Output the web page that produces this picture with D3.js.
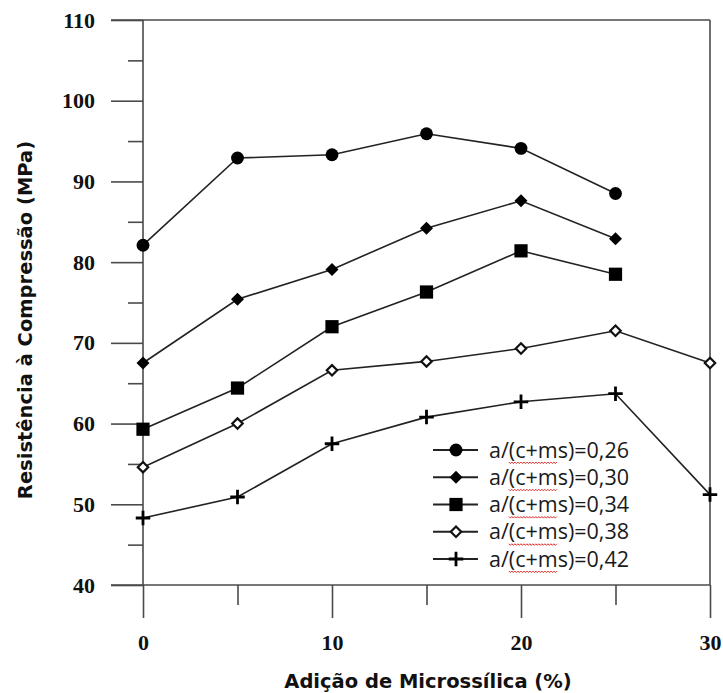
<!DOCTYPE html>
<html>
<head>
<meta charset="utf-8">
<script src="https://cdn.jsdelivr.net/npm/d3@7"></script>
<style>
  html, body { margin: 0; padding: 0; background: #fff; }
  svg { display: block; }
</style>
</head>
<body>
<svg id="chart" width="723" height="693"></svg>
<script>
// Microsilica addition (%) on the x axis
const silica = [0, 5, 10, 15, 20, 25, 30];

// Compressive strength (MPa) for each water/binder ratio
const wb026 = [82.1, 92.9, 93.3, 95.9, 94.1, 88.5];
const wb030 = [67.5, 75.4, 79.1, 84.2, 87.6, 82.9];
const wb034 = [59.3, 64.4, 72.0, 76.3, 81.4, 78.5];
const wb038 = [54.6, 60.0, 66.6, 67.7, 69.3, 71.5, 67.5];
const wb042 = [48.3, 50.9, 57.5, 60.8, 62.7, 63.7, 51.2];

const seriesNames = ["a/(c+ms)=0,26", "a/(c+ms)=0,30", "a/(c+ms)=0,34", "a/(c+ms)=0,38", "a/(c+ms)=0,42"];
const seriesValues = [wb026, wb030, wb034, wb038, wb042];
const seriesMarkers = ["circle", "diamond", "square", "hollowDiamond", "plus"];

const xMajorTicks = [0, 10, 20, 30];
const xMinorTicks = [5, 15, 25];
const yMajorTicks = [40, 50, 60, 70, 80, 90, 100, 110];
const yMinorTicks = [45, 55, 65, 75, 85, 95, 105];

const xTitle = "Adição de Microssílica (%)";
const yTitle = "Resistência à Compressão (MPa)";

const svg = d3.select("#chart");
const x = d3.scaleLinear().domain([0, 30]).range([143, 710]);
const y = d3.scaleLinear().domain([40, 110]).range([585, 20]);

const axisColor = "#4a4a4a";
const lineColor = "#222";
const tickFont = "'Liberation Serif', 'Times New Roman', serif";
const titleFont = "'DejaVu Sans', Verdana, sans-serif";
const legendFont = "'Open Sans', 'Noto Sans', sans-serif";

// Marker shapes
const markerSymbols = {
  circle: { draw(ctx, size) { const r = Math.sqrt(size / Math.PI); ctx.moveTo(r, 0); ctx.arc(0, 0, r, 0, 2 * Math.PI); } },
  diamond: { draw(ctx, size) { const h = Math.sqrt(size / 2); ctx.moveTo(0, -h); ctx.lineTo(h, 0); ctx.lineTo(0, h); ctx.lineTo(-h, 0); ctx.closePath(); } },
  square: { draw(ctx, size) { const h = Math.sqrt(size) / 2; ctx.rect(-h, -h, 2 * h, 2 * h); } },
  plus: { draw(ctx, size) { const h = Math.sqrt(size) / 2; ctx.moveTo(-h, 0); ctx.lineTo(h, 0); ctx.moveTo(0, -h); ctx.lineTo(0, h); } }
};
const markerStyle = {
  circle: { type: markerSymbols.circle, size: 130, fill: "#000", stroke: "none", sw: 0 },
  diamond: { type: markerSymbols.diamond, size: 84, fill: "#000", stroke: "none", sw: 0 },
  square: { type: markerSymbols.square, size: 175, fill: "#000", stroke: "none", sw: 0 },
  hollowDiamond: { type: markerSymbols.diamond, size: 54, fill: "#fff", stroke: "#111", sw: 2.2 },
  plus: { type: markerSymbols.plus, size: 210, fill: "none", stroke: "#000", sw: 2.8 }
};
function drawMarker(g, kind, cx, cy) {
  const s = markerStyle[kind];
  g.append("path")
    .attr("d", d3.symbol().type(s.type).size(s.size)())
    .attr("transform", `translate(${cx},${cy})`)
    .attr("fill", s.fill)
    .attr("stroke", s.stroke)
    .attr("stroke-width", s.sw);
}

// Axes
const yMajor = svg.append("g").attr("transform", `translate(${x(0)},0)`)
  .call(d3.axisLeft(y).tickValues(yMajorTicks).tickSize(32).tickPadding(16).tickFormat(d3.format("d")));
const yMinor = svg.append("g").attr("transform", `translate(${x(0)},0)`)
  .call(d3.axisLeft(y).tickValues(yMinorTicks).tickSize(15).tickFormat(""));
const xMajor = svg.append("g").attr("transform", `translate(0,${y(40)})`)
  .call(d3.axisBottom(x).tickValues(xMajorTicks).tickSize(33).tickPadding(16).tickFormat(d3.format("d")));
const xMinor = svg.append("g").attr("transform", `translate(0,${y(40)})`)
  .call(d3.axisBottom(x).tickValues(xMinorTicks).tickSize(20).tickFormat(""));

[yMajor, yMinor, xMajor, xMinor].forEach(g => {
  g.select(".domain").remove();
  g.selectAll(".tick line").attr("stroke", axisColor).attr("stroke-width", 1.6);
  g.selectAll(".tick text")
    .attr("fill", "#111")
    .style("font-family", tickFont)
    .style("font-weight", "bold")
    .style("font-size", "22px");
});

// Frame: left axis, top, bottom and right borders
const frame = svg.append("g").attr("stroke", axisColor).attr("stroke-width", 1.6).attr("fill", "none");
frame.append("line").attr("x1", x(0)).attr("x2", x(0)).attr("y1", y(110)).attr("y2", y(40));
frame.append("line").attr("x1", x(0) - 32).attr("x2", x(30)).attr("y1", y(110)).attr("y2", y(110));
frame.append("line").attr("x1", x(0) - 32).attr("x2", x(30)).attr("y1", y(40)).attr("y2", y(40));
frame.append("line").attr("x1", x(30)).attr("x2", x(30)).attr("y1", y(110)).attr("y2", y(40));

// Series lines and markers
const lineGen = d3.line().x((d, i) => x(silica[i])).y(d => y(d));
seriesValues.forEach((vals, k) => {
  svg.append("path")
    .datum(vals)
    .attr("d", lineGen)
    .attr("fill", "none")
    .attr("stroke", lineColor)
    .attr("stroke-width", 1.6);
  const g = svg.append("g");
  vals.forEach((v, i) => drawMarker(g, seriesMarkers[k], x(silica[i]), y(v)));
});

// Axis titles
svg.append("text")
  .attr("x", 428).attr("y", 688)
  .attr("text-anchor", "middle")
  .style("font-family", titleFont).style("font-weight", "bold").style("font-size", "19.5px")
  .attr("fill", "#111")
  .text(xTitle);
svg.append("text")
  .attr("transform", "translate(32,320) rotate(-90)")
  .attr("text-anchor", "middle")
  .style("font-family", titleFont).style("font-weight", "bold").style("font-size", "19.5px")
  .attr("fill", "#111")
  .text(yTitle);

// Legend
const legendRowY = d3.scalePoint().domain(seriesNames).range([450, 559]);
const legend = svg.append("g");
seriesNames.forEach((name, k) => {
  const ry = legendRowY(name);
  legend.append("line")
    .attr("x1", 433).attr("x2", 478).attr("y1", ry).attr("y2", ry)
    .attr("stroke", lineColor).attr("stroke-width", 1.8);
  drawMarker(legend, seriesMarkers[k], 456, ry);
  const t = legend.append("text")
    .attr("x", 489).attr("y", ry + 7.5)
    .style("font-family", legendFont).style("font-size", "21.5px")
    .attr("fill", "#1a1a1a")
    .text(name);
  // red wavy underline beneath "c+ms"
  const node = t.node();
  const start = 489 + node.getSubStringLength(0, 2);
  const len = node.getSubStringLength(2, 4);
  const wy = ry + 12;
  const pts = [];
  for (let px = 0; px <= len; px += 1.5) {
    pts.push([start + px, wy + (Math.round(px / 1.5) % 2 === 0 ? 0 : 1.6)]);
  }
  legend.append("path")
    .attr("d", d3.line()(pts))
    .attr("fill", "none")
    .attr("stroke", "#e0302a")
    .attr("stroke-width", 1);
});
</script>
</body>
</html>
